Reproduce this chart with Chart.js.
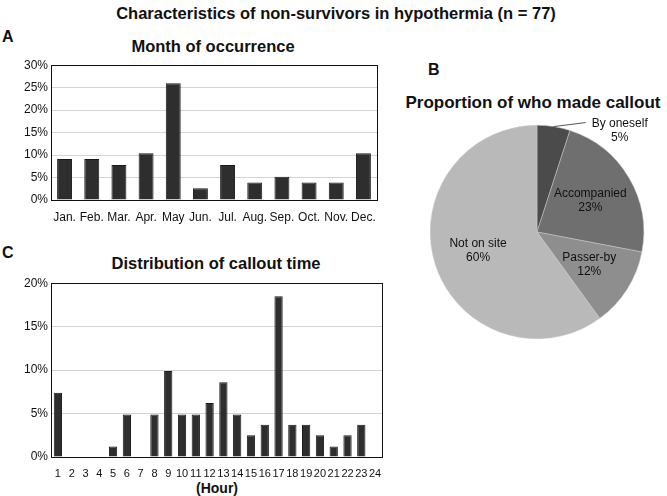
<!DOCTYPE html>
<html>
<head>
<meta charset="utf-8">
<script src="https://cdn.jsdelivr.net/npm/chart.js@4.4.1/dist/chart.umd.min.js"></script>
<style>
    body { margin: 0; background: #fff; font-family: "Liberation Sans", Arial, sans-serif; color: #111; }
    #page { position: relative; width: 667px; height: 496px; overflow: hidden; }
    .txt { position: absolute; white-space: nowrap; font-weight: bold; transform: translate(-50%, -50%); }
    .panel { position: absolute; font-weight: bold; font-size: 16px; transform: translateY(-50%); }
    canvas { position: absolute; }
</style>
</head>
<body>
<div id="page">
    <div class="txt" style="left:336px; top:13px; font-size:16.5px;">Characteristics of non-survivors in hypothermia (n = 77)</div>

    <div class="panel" style="left:2px; top:37px;">A</div>
    <div class="txt" style="left:213px; top:46px; font-size:16.5px;">Month of occurrence</div>
    <canvas id="monthChart" width="390" height="170" style="left:0; top:55px;"></canvas>

    <div class="panel" style="left:428px; top:70px;">B</div>
    <div class="txt" style="left:533px; top:103px; font-size:17px;">Proportion of who made callout</div>
    <canvas id="callerChart" width="267" height="264" style="left:400px; top:100px;"></canvas>

    <div class="panel" style="left:2px; top:253px;">C</div>
    <div class="txt" style="left:216px; top:263px; font-size:16.5px;">Distribution of callout time</div>
    <canvas id="hourChart" width="395" height="205" style="left:0; top:273px;"></canvas>
    <div class="txt" style="left:217px; top:488px; font-size:14px;">(Hour)</div>
</div>

<script>
// Panel A: month of occurrence (% of 77)
const months = ["Jan.", "Feb.", "Mar.", "Apr.", "May", "Jun.", "Jul.", "Aug.", "Sep.", "Oct.", "Nov.", "Dec."];
const monthValues = [9.1, 9.1, 7.8, 10.4, 26.0, 2.6, 7.8, 3.9, 5.2, 3.9, 3.9, 10.4];

// Panel B: who made the callout (%)
const callers = ["By oneself", "Accompanied", "Passer-by", "Not on site"];
const callerValues = [5, 23, 12, 60];
const callerColors = ["#4b4b4b", "#6f6f6f", "#8e8e8e", "#b9b9b9"];

// Panel C: callout time by hour (%)
const hours = ["1", "2", "3", "4", "5", "6", "7", "8", "9", "10", "11", "12",
               "13", "14", "15", "16", "17", "18", "19", "20", "21", "22", "23", "24"];
const hourValues = [7.4, 0, 0, 0, 1.2, 4.9, 0, 4.9, 9.9, 4.9, 4.9, 6.2,
                    8.6, 4.9, 2.5, 3.7, 18.5, 3.7, 3.7, 2.5, 1.2, 2.5, 3.7, 0];

// box around the plot area
const frameBox = {
    id: "frameBox",
    afterDraw(chart) {
        const a = chart.chartArea;
        const ctx = chart.ctx;
        ctx.save();
        ctx.strokeStyle = "#111";
        ctx.lineWidth = 1;
        ctx.strokeRect(Math.round(a.left) + 0.5, Math.round(a.top) + 0.5,
                       Math.round(a.right - a.left), Math.round(a.bottom - a.top));
        ctx.restore();
    }
};

function barOptions(yMax, xHeight, xFontSize, padRight) {
    return {
        responsive: false,
        animation: false,
        layout: { padding: { top: 4, right: padRight, left: 0, bottom: 0 } },
        plugins: { legend: { display: false }, tooltip: { enabled: false } },
        scales: {
            x: {
                grid: { display: false },
                border: { display: false },
                ticks: { color: "#111", font: { family: "Liberation Sans", size: xFontSize },
                         maxRotation: 0, autoSkip: false, padding: 2 },
                afterFit: (scale) => { scale.height = xHeight; }
            },
            y: {
                min: 0,
                max: yMax,
                grid: { color: "#d4d4d4", drawTicks: false },
                border: { display: false },
                ticks: { stepSize: 5, color: "#111", font: { family: "Liberation Sans", size: 12 },
                         padding: 3, callback: v => v + "%" },
                afterFit: (scale) => { scale.width = 51; }
            }
        }
    };
}

new Chart(document.getElementById("monthChart"), {
    type: "bar",
    data: {
        labels: months,
        datasets: [{
            data: monthValues,
            backgroundColor: "#2e2e2e",
            borderColor: "#1a1a1a",
            borderWidth: 1,
            categoryPercentage: 1,
            barPercentage: 0.55
        }]
    },
    options: barOptions(30, 25, 12, 13),
    plugins: [frameBox]
});

new Chart(document.getElementById("hourChart"), {
    type: "bar",
    data: {
        labels: hours,
        datasets: [{
            data: hourValues,
            backgroundColor: "#2e2e2e",
            borderColor: "#1a1a1a",
            borderWidth: 1,
            categoryPercentage: 1,
            barPercentage: 0.6
        }]
    },
    options: barOptions(20, 21, 11, 13),
    plugins: [frameBox]
});

// slice labels: inside for the big slices, leader line for the first one
const sliceLabels = {
    id: "sliceLabels",
    afterDatasetsDraw(chart) {
        const ctx = chart.ctx;
        const arcs = chart.getDatasetMeta(0).data;
        ctx.save();
        ctx.fillStyle = "#111";
        ctx.font = "12px 'Liberation Sans'";
        ctx.textAlign = "center";
        ctx.textBaseline = "middle";
        arcs.forEach((arc, i) => {
            const mid = (arc.startAngle + arc.endAngle) / 2;
            const lines = [callers[i], callerValues[i] + "%"];
            if (i === 0) {
                const ex = arc.x + Math.cos(mid) * arc.outerRadius;
                const ey = arc.y + Math.sin(mid) * arc.outerRadius;
                ctx.strokeStyle = "#555";
                ctx.lineWidth = 1;
                ctx.beginPath();
                ctx.moveTo(ex, ey);
                ctx.lineTo(ex + 32, ey - 4);
                ctx.stroke();
                ctx.fillText(lines[0], ex + 66, ey - 3);
                ctx.fillText(lines[1], ex + 66, ey + 11);
            } else {
                const r = arc.outerRadius * 0.58;
                const cx = arc.x + Math.cos(mid) * r;
                const cy = arc.y + Math.sin(mid) * r;
                ctx.fillText(lines[0], cx, cy - 7);
                ctx.fillText(lines[1], cx, cy + 7);
            }
        });
        ctx.restore();
    }
};

new Chart(document.getElementById("callerChart"), {
    type: "pie",
    data: {
        labels: callers,
        datasets: [{
            data: callerValues,
            backgroundColor: callerColors,
            borderColor: "#c8c8c8",
            borderWidth: 0.5
        }]
    },
    options: {
        responsive: false,
        animation: false,
        layout: { padding: { top: 25, bottom: 25, left: 30, right: 23 } },
        plugins: { legend: { display: false }, tooltip: { enabled: false } }
    },
    plugins: [sliceLabels]
});
</script>
</body>
</html>
